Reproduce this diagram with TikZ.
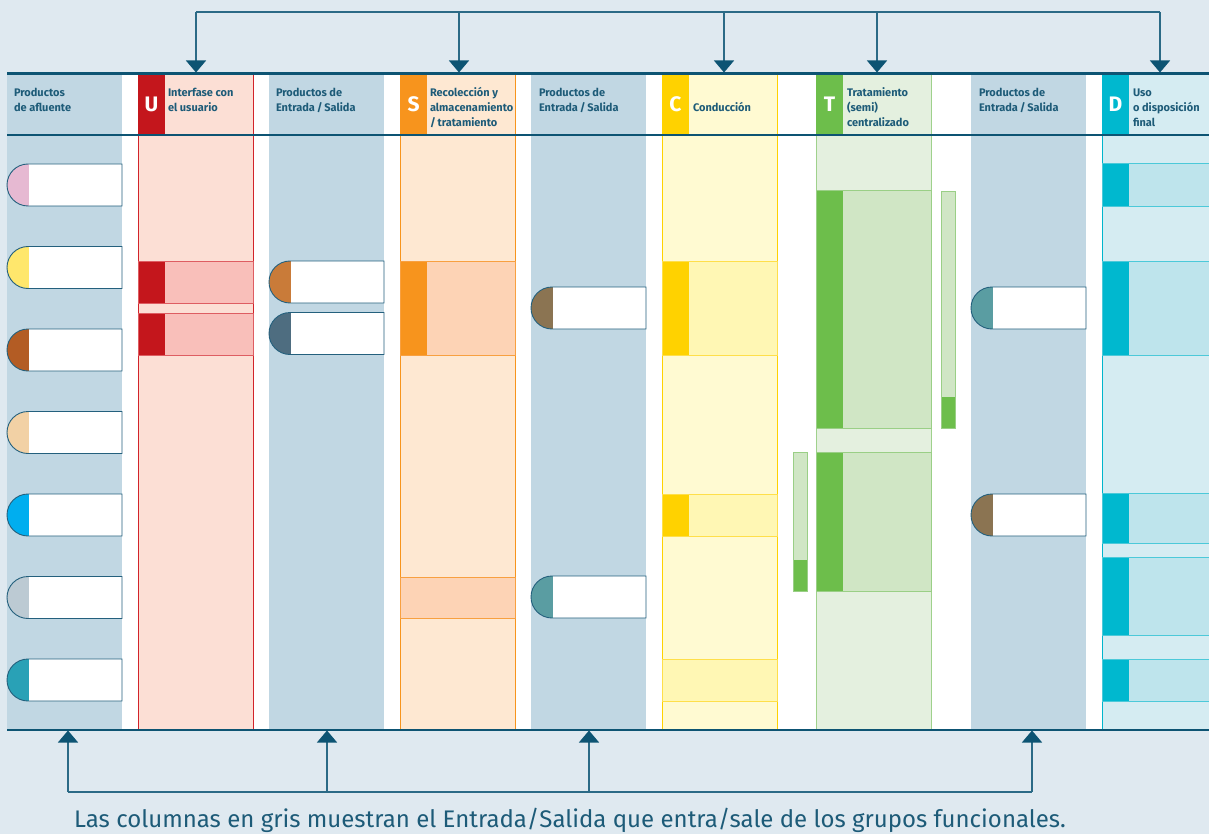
\documentclass[tikz,border=0pt]{standalone}
\usepackage{fontspec}
\setmainfont{Fira Sans}
\usetikzlibrary{arrows.meta,shapes.misc}
\definecolor{bg}{HTML}{DFE9F0}
\definecolor{grayc}{HTML}{C1D7E3}
\definecolor{linec}{HTML}{0D5473}
\definecolor{busc}{HTML}{2B6A86}
\definecolor{headc}{HTML}{1D5B78}
\definecolor{pillb}{HTML}{24607D}
\definecolor{ured}{HTML}{C4161C}\definecolor{ufill}{HTML}{FCDFD5}\definecolor{urowf}{HTML}{F9BFBA}\definecolor{uline}{HTML}{D2232A}\definecolor{urowl}{HTML}{DE5D62}
\definecolor{sorange}{HTML}{F7941D}\definecolor{sfill}{HTML}{FEE8D2}\definecolor{srowf}{HTML}{FDD3B5}\definecolor{sline}{HTML}{F7941D}\definecolor{srowl}{HTML}{F8A040}
\definecolor{cyellow}{HTML}{FFD200}\definecolor{cfill}{HTML}{FFFAD2}\definecolor{crowf}{HTML}{FFF7B4}\definecolor{cline}{HTML}{FFD200}\definecolor{crowl}{HTML}{FFDF4A}
\definecolor{tgreen}{HTML}{6DBE4B}\definecolor{tfill}{HTML}{E4F0DF}\definecolor{trowf}{HTML}{D0E6C5}\definecolor{tline}{HTML}{9FD18C}\definecolor{trowl}{HTML}{9ACF86}
\definecolor{dcyan}{HTML}{00B8CF}\definecolor{dfill}{HTML}{D5ECF2}\definecolor{drowf}{HTML}{BEE4EC}\definecolor{dline}{HTML}{00B5CC}\definecolor{drowl}{HTML}{4CC9D9}
\definecolor{pa}{HTML}{E6B9D2}\definecolor{pb}{HTML}{FFE76C}\definecolor{pc}{HTML}{B35C24}\definecolor{pd}{HTML}{F2D1A5}
\definecolor{pe}{HTML}{00AEEF}\definecolor{pf}{HTML}{BCCAD3}\definecolor{pg}{HTML}{29A1B6}
\definecolor{qa}{HTML}{C97B39}\definecolor{qb}{HTML}{4E6D80}\definecolor{qc}{HTML}{8B7452}\definecolor{qd}{HTML}{5A9DA2}
\tikzset{
  graycol/.style={fill=grayc, inner sep=0pt, outer sep=0pt, minimum width=115pt, minimum height=655pt, anchor=north west},
  colbox/.style 2 args={fill=#1, draw=#2, line width=0.9pt, inner sep=0pt, outer sep=0pt, minimum width=115pt, minimum height=655pt, anchor=north west},
  letterbox/.style={fill=#1, inner sep=0pt, outer sep=0pt, minimum width=27pt, minimum height=61pt, anchor=north west, text=white, font=\fontsize{21}{21}\selectfont\bfseries},
  head/.style={anchor=north west, inner sep=0pt, outer sep=0pt, align=left, text=headc, font=\fontsize{11}{15}\selectfont\bfseries},
  pill/.style={rounded rectangle, rounded rectangle right arc=none, draw=pillb, line width=0.9pt, fill=white, minimum width=115pt, minimum height=42pt, inner sep=0pt, outer sep=0pt, anchor=east,
    path picture={\fill[#1] (path picture bounding box.south west) rectangle ([xshift=22pt]path picture bounding box.north west);}},
  rowbox/.style 2 args={fill=#1, draw=#2, line width=0.9pt, inner sep=0pt, outer sep=0pt, minimum width=115pt, anchor=north west},
  tab/.style={path picture={\fill[#1] (path picture bounding box.south west) rectangle ([xshift=27pt]path picture bounding box.north west);}},
  bar/.style={fill=trowf, draw=trowl, line width=0.9pt, inner sep=0pt, outer sep=0pt, minimum width=14pt, anchor=north west,
    path picture={\fill[tgreen] (path picture bounding box.south west) rectangle ([yshift=31pt]path picture bounding box.south east);}},
  thickline/.style={draw=linec, line width=2.4pt},
  bus/.style={draw=busc, line width=1.3pt},
  arr/.style={draw=busc, line width=1.3pt, -{Triangle[width=20pt,length=12pt,color=linec]}}
}
\begin{document}
\begin{tikzpicture}[x=1pt,y=-1pt]
\fill[bg] (0,0) rectangle (1209,834);
\useasboundingbox (0,0) rectangle (1209,834);
\fill[white] (7,74) rectangle (1209,729);
% columns
\node[graycol] (c1) at (7,74) {};
\node[colbox={ufill}{uline}] (cU) at (138,74) {};
\node[graycol] (c3) at (269,74) {};
\node[colbox={sfill}{sline}] (cS) at (400,74) {};
\node[graycol] (c5) at (531,74) {};
\node[colbox={cfill}{cline}] (cC) at (662,74) {};
\node[colbox={tfill}{tline}] (cT) at (816,74) {};
\node[graycol] (c8) at (971,74) {};
\node[colbox={dfill}{dline}] (cD) at (1102,74) {};
% letter boxes
\node[letterbox=ured] (lU) at (138,74) {U};
\node[letterbox=sorange] (lS) at (400,74) {S};
\node[letterbox=cyellow] (lC) at (662,74) {C};
\node[letterbox=tgreen] (lT) at (816,74) {T};
\node[letterbox=dcyan] (lD) at (1102,74) {D};
% headers
\node[head] (h1) at (14,86) {\strut Productos\\\strut de afluente};
\node[head] (hU) at (168,86) {\strut Interfase con\\\strut el usuario};
\node[head] (h3) at (276,86) {\strut Productos de\\\strut Entrada\,/\,Salida};
\node[head] (hS) at (430,86) {\strut Recolección y\\\strut almacenamiento\\\strut /\,tratamiento};
\node[head] (h5) at (539,86) {\strut Productos de\\\strut Entrada\,/\,Salida};
\node[head] (hC) at (693,101) {\strut Conducción};
\node[head] (hT) at (847,86) {\strut Tratamiento\\\strut (semi)\\\strut centralizado};
\node[head] (h8) at (979,86) {\strut Productos de\\\strut Entrada\,/\,Salida};
\node[head] (hD) at (1133,86) {\strut Uso\\\strut o disposición\\\strut final};
% U rows
\node[rowbox={urowf}{urowl}, tab=ured, minimum height=42pt] (u1) at (138,261) {};
\node[rowbox={urowf}{urowl}, tab=ured, minimum height=42pt] (u2) at (138,313) {};
% S rows
\node[rowbox={srowf}{srowl}, tab=sorange, minimum height=94pt] (s1) at (400,261) {};
\node[rowbox={srowf}{srowl}, minimum height=41pt] (s2) at (400,577) {};
% C rows
\node[rowbox={crowf}{crowl}, tab=cyellow, minimum height=94pt] (k1) at (662,261) {};
\node[rowbox={crowf}{crowl}, tab=cyellow, minimum height=42pt] (k2) at (662,494) {};
\node[rowbox={crowf}{crowl}, minimum height=42pt] (k3) at (662,659) {};
% T rows
\node[rowbox={trowf}{trowl}, tab=tgreen, minimum height=238pt] (t1) at (816,190) {};
\node[rowbox={trowf}{trowl}, tab=tgreen, minimum height=139pt] (t2) at (816,452) {};
\node[bar, minimum height=237pt] (b1) at (941,191) {};
\node[bar, minimum height=139pt] (b2) at (793,452) {};
% D rows
\node[rowbox={drowf}{drowl}, tab=dcyan, minimum height=43pt] (d1) at (1102,163) {};
\node[rowbox={drowf}{drowl}, tab=dcyan, minimum height=94pt] (d2) at (1102,261) {};
\node[rowbox={drowf}{drowl}, tab=dcyan, minimum height=50pt] (d3) at (1102,493) {};
\node[rowbox={drowf}{drowl}, tab=dcyan, minimum height=78pt] (d4) at (1102,557) {};
\node[rowbox={drowf}{drowl}, tab=dcyan, minimum height=42pt] (d5) at (1102,659) {};
% pills column 1
\node[pill=pa] (p1) at (122,185) {};
\node[pill=pb] (p2) at (122,267.5) {};
\node[pill=pc] (p3) at (122,350) {};
\node[pill=pd] (p4) at (122,432.5) {};
\node[pill=pe] (p5) at (122,515) {};
\node[pill=pf] (p6) at (122,597.5) {};
\node[pill=pg] (p7) at (122,680) {};
% pills E/S columns
\node[pill=qa] (q1) at (384,282) {};
\node[pill=qb] (q2) at (384,333.5) {};
\node[pill=qc] (q3) at (646,308) {};
\node[pill=qd] (q4) at (646,597) {};
\node[pill=qd] (q5) at (1086,308) {};
\node[pill=qc] (q6) at (1086,515) {};
% horizontal rules
\draw[thickline] (7,73.5) -- (1209,73.5);
\draw[thickline] (7,135) -- (1209,135);
\draw[thickline] (7,730) -- (1209,730);
% top bus and arrows
\coordinate (tbL) at (196,12);
\coordinate (tbR) at (1160,12);
\draw[bus] (tbL) -- (tbR);
\draw[arr] ([xshift=0.5pt]cU.north |- tbL) -- ([xshift=0.5pt,yshift=1.5pt]cU.north);
\draw[arr] ([xshift=1.5pt]cS.north |- tbL) -- ([xshift=1.5pt,yshift=1.5pt]cS.north);
\draw[arr] ([xshift=4.5pt]cC.north |- tbL) -- ([xshift=4.5pt,yshift=1.5pt]cC.north);
\draw[arr] ([xshift=3.5pt]cT.north |- tbL) -- ([xshift=3.5pt,yshift=1.5pt]cT.north);
\draw[arr] ([xshift=0.5pt]cD.north |- tbL) -- ([xshift=0.5pt,yshift=1.5pt]cD.north);
% bottom bus and arrows
\coordinate (bbL) at (68,792);
\coordinate (bbR) at (1032,792);
\draw[bus] (bbL) -- (bbR);
\draw[arr] ([xshift=3.5pt]c1.south |- bbL) -- ([xshift=3.5pt,yshift=-1.5pt]c1.south);
\draw[arr] ([xshift=0.5pt]c3.south |- bbL) -- ([xshift=0.5pt,yshift=-1.5pt]c3.south);
\draw[arr] ([xshift=0.5pt]c5.south |- bbL) -- ([xshift=0.5pt,yshift=-1.5pt]c5.south);
\draw[arr] ([xshift=3.5pt]c8.south |- bbL) -- ([xshift=3.5pt,yshift=-1.5pt]c8.south);
% caption
\node[anchor=base, inner sep=0pt, text=headc, font=\fontsize{24}{28}\selectfont] (cap) at (570,827) {Las columnas en gris muestran el Entrada/Salida que entra/sale de los grupos funcionales.};
\end{tikzpicture}
\end{document}
